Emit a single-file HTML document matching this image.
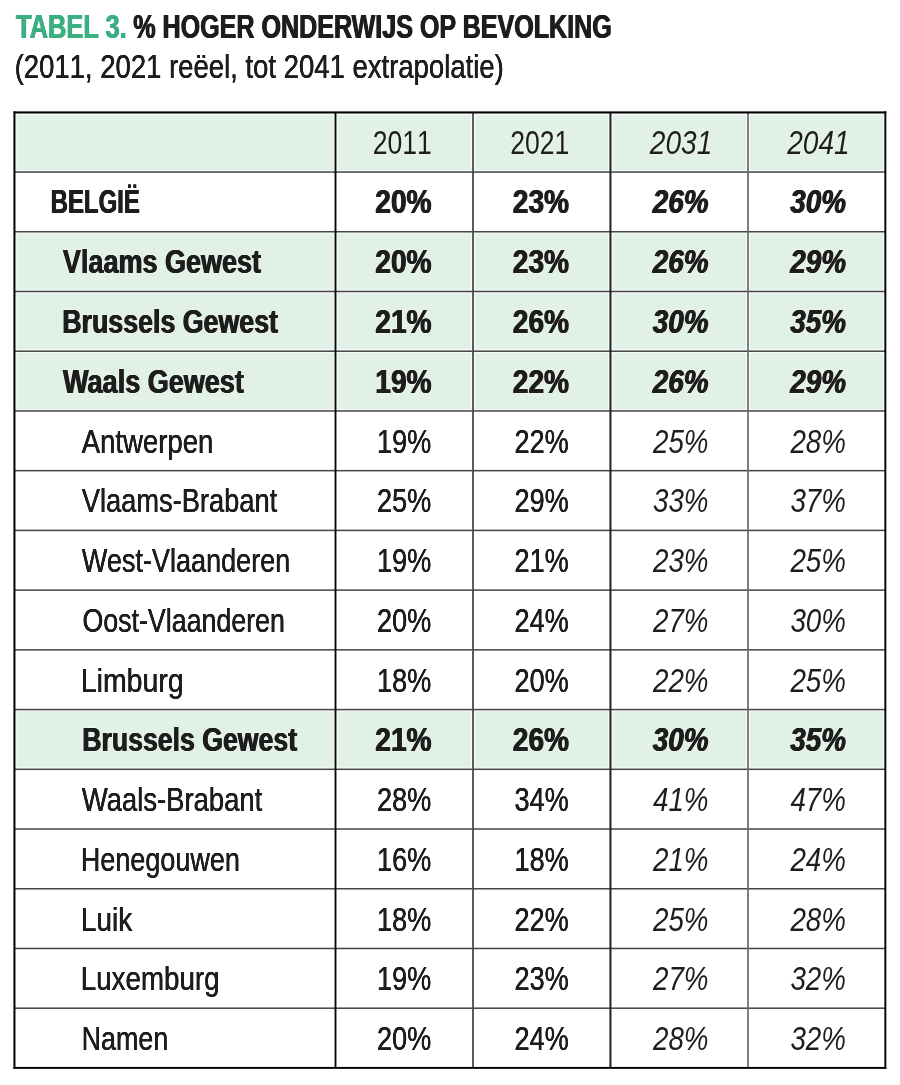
<!DOCTYPE html>
<html lang="nl">
<head>
<meta charset="utf-8">
<title>Tabel 3. % hoger onderwijs op bevolking</title>
<style>
html,body{margin:0;padding:0;background:#fff;}
body{width:900px;height:1085px;position:relative;overflow:hidden;font-family:"Liberation Sans",sans-serif;font-size:33.6px;font-weight:normal;color:#1d1d1b;}
h1,p{margin:0;font:inherit;}
svg{position:absolute;left:0;top:0;}
/* every text run is absolutely placed; Liberation Sans is squeezed horizontally to stand in for the condensed face */
.t,.c{position:absolute;left:0;white-space:nowrap;line-height:1;}
.t{transform-origin:0 0;}
.c{width:200px;text-align:center;transform-origin:50% 0;font-kerning:none;}
.k{font-kerning:none;}
.r{text-shadow:0.2px 0 0 currentColor,-0.2px 0 0 currentColor;}
.b{font-weight:bold;text-shadow:0.6px 0 0 currentColor,-0.6px 0 0 currentColor;}
.i{font-style:italic;}
.r.i{text-shadow:none;}
.s{text-shadow:0 0 1.5px rgba(255,255,255,0.9);}
.s.b{text-shadow:0.6px 0 0 currentColor,-0.6px 0 0 currentColor,0 0 2px rgba(255,255,255,0.9),0 0 2px rgba(255,255,255,0.9);}
.g{color:#3bae82;}
</style>
</head>
<body>
<svg width="900" height="1085" viewBox="0 0 900 1085" aria-hidden="true">
<g fill="#e1f1e7">
<rect x="14.4" y="112.3" width="870.95" height="59.73"/>
<rect x="14.4" y="231.75" width="870.95" height="179.18"/>
<rect x="14.4" y="709.57" width="870.95" height="59.73"/>
</g>
<defs><clipPath id="tint"><rect x="14.4" y="112.3" width="870.95" height="59.73"/><rect x="14.4" y="231.75" width="870.95" height="179.18"/><rect x="14.4" y="709.57" width="870.95" height="59.73"/></clipPath></defs>
<g fill="#ffffff" opacity="0.75" clip-path="url(#tint)">
<rect x="14.4" y="109.65" width="870.95" height="5.3"/>
<rect x="14.4" y="170.18" width="870.95" height="3.7"/>
<rect x="14.4" y="229.9" width="870.95" height="3.7"/>
<rect x="14.4" y="289.63" width="870.95" height="3.7"/>
<rect x="14.4" y="349.36" width="870.95" height="3.7"/>
<rect x="14.4" y="409.08" width="870.95" height="3.7"/>
<rect x="14.4" y="468.81" width="870.95" height="3.7"/>
<rect x="14.4" y="528.54" width="870.95" height="3.7"/>
<rect x="14.4" y="588.27" width="870.95" height="3.7"/>
<rect x="14.4" y="647.99" width="870.95" height="3.7"/>
<rect x="14.4" y="707.72" width="870.95" height="3.7"/>
<rect x="14.4" y="767.45" width="870.95" height="3.7"/>
<rect x="14.4" y="827.17" width="870.95" height="3.7"/>
<rect x="14.4" y="886.9" width="870.95" height="3.7"/>
<rect x="14.4" y="946.63" width="870.95" height="3.7"/>
<rect x="14.4" y="1006.35" width="870.95" height="3.7"/>
<rect x="14.4" y="1066.08" width="870.95" height="3.7"/>
<rect x="12.3" y="112.3" width="4.2" height="955.63"/>
<rect x="333.4" y="112.3" width="4.2" height="955.63"/>
<rect x="470.9" y="112.3" width="4.2" height="955.63"/>
<rect x="608.35" y="112.3" width="4.2" height="955.63"/>
<rect x="745.9" y="112.3" width="4.2" height="955.63"/>
<rect x="883.25" y="112.3" width="4.2" height="955.63"/>
</g>
<g fill="#444">
<rect x="14.4" y="171.28" width="870.95" height="1.5"/>
<rect x="14.4" y="231" width="870.95" height="1.5"/>
<rect x="14.4" y="290.73" width="870.95" height="1.5"/>
<rect x="14.4" y="350.46" width="870.95" height="1.5"/>
<rect x="14.4" y="410.19" width="870.95" height="1.5"/>
<rect x="14.4" y="469.91" width="870.95" height="1.5"/>
<rect x="14.4" y="529.64" width="870.95" height="1.5"/>
<rect x="14.4" y="589.37" width="870.95" height="1.5"/>
<rect x="14.4" y="649.09" width="870.95" height="1.5"/>
<rect x="14.4" y="708.82" width="870.95" height="1.5"/>
<rect x="14.4" y="768.55" width="870.95" height="1.5"/>
<rect x="14.4" y="828.27" width="870.95" height="1.5"/>
<rect x="14.4" y="888" width="870.95" height="1.5"/>
<rect x="14.4" y="947.73" width="870.95" height="1.5"/>
<rect x="14.4" y="1007.45" width="870.95" height="1.5"/>
</g>
<rect x="334.55" y="112.3" width="1.9" height="955.63" fill="#0a0a0a"/>
<rect x="472.1" y="112.3" width="1.8" height="955.63" fill="#4a4a4a"/>
<rect x="609.45" y="112.3" width="2" height="955.63" fill="#222"/>
<rect x="747.15" y="112.3" width="1.7" height="955.63" fill="#6a6a6a"/>
<g fill="#000">
<rect x="13.45" y="111.4" width="872.85" height="2.1"/>
<rect x="13.45" y="1066.95" width="872.85" height="1.9"/>
<rect x="13.45" y="111.4" width="2" height="957.45"/>
<rect x="884.4" y="111.4" width="1.9" height="957.45"/>
</g>
</svg>
<h1><span class="t b g" style="top:10px;transform:translateX(15.99px) scaleX(0.7577)">TABEL 3.</span> <span class="t b" style="top:10px;transform:translateX(133.24px) scaleX(0.747)">% HOGER ONDERWIJS OP BEVOLKING</span></h1>
<p class="t k r" style="top:50px;transform:translateX(14.63px) scaleX(0.8189)">(2011, 2021 reëel, tot 2041 extrapolatie)</p>
<div role="table" aria-label="% hoger onderwijs op bevolking">
<div role="row"><div role="columnheader"></div><div role="columnheader" class="c s" style="top:126px;transform:translateX(302.35px) scaleX(0.7916)">2011</div><div role="columnheader" class="c s" style="top:126px;transform:translateX(439.83px) scaleX(0.7916)">2021</div><div role="columnheader" class="c i s" style="top:126px;transform:translateX(581.02px) scaleX(0.8362)">2031</div><div role="columnheader" class="c i s" style="top:126px;transform:translateX(718.47px) scaleX(0.8362)">2041</div></div>
<div role="row"><div role="rowheader" class="t b" style="top:185px;transform:translateX(50.67px) scaleX(0.7131)">BELGIË</div><div role="cell" class="c b" style="top:185px;transform:translateX(303.49px) scaleX(0.8367)">20%</div><div role="cell" class="c b" style="top:185px;transform:translateX(440.97px) scaleX(0.8367)">23%</div><div role="cell" class="c b i" style="top:185px;transform:translateX(580.75px) scaleX(0.8297)">26%</div><div role="cell" class="c b i" style="top:185px;transform:translateX(718.2px) scaleX(0.8297)">30%</div></div>
<div role="row"><div role="rowheader" class="t b s" style="top:245px;transform:translateX(62.87px) scaleX(0.8044)">Vlaams Gewest</div><div role="cell" class="c b s" style="top:245px;transform:translateX(303.49px) scaleX(0.8367)">20%</div><div role="cell" class="c b s" style="top:245px;transform:translateX(440.97px) scaleX(0.8367)">23%</div><div role="cell" class="c b i s" style="top:245px;transform:translateX(580.75px) scaleX(0.8297)">26%</div><div role="cell" class="c b i s" style="top:245px;transform:translateX(718.2px) scaleX(0.8297)">29%</div></div>
<div role="row"><div role="rowheader" class="t b s" style="top:305px;transform:translateX(62.24px) scaleX(0.7971)">Brussels Gewest</div><div role="cell" class="c b s" style="top:305px;transform:translateX(303.49px) scaleX(0.8367)">21%</div><div role="cell" class="c b s" style="top:305px;transform:translateX(440.97px) scaleX(0.8367)">26%</div><div role="cell" class="c b i s" style="top:305px;transform:translateX(580.75px) scaleX(0.8297)">30%</div><div role="cell" class="c b i s" style="top:305px;transform:translateX(718.2px) scaleX(0.8297)">35%</div></div>
<div role="row"><div role="rowheader" class="t b s" style="top:365px;transform:translateX(63.05px) scaleX(0.8053)">Waals Gewest</div><div role="cell" class="c b s" style="top:365px;transform:translateX(303.49px) scaleX(0.8367)">19%</div><div role="cell" class="c b s" style="top:365px;transform:translateX(440.97px) scaleX(0.8367)">22%</div><div role="cell" class="c b i s" style="top:365px;transform:translateX(580.75px) scaleX(0.8297)">26%</div><div role="cell" class="c b i s" style="top:365px;transform:translateX(718.2px) scaleX(0.8297)">29%</div></div>
<div role="row"><div role="rowheader" class="t r" style="top:425px;transform:translateX(81.73px) scaleX(0.8198)">Antwerpen</div><div role="cell" class="c r" style="top:425px;transform:translateX(304.13px) scaleX(0.8065)">19%</div><div role="cell" class="c r" style="top:425px;transform:translateX(441.61px) scaleX(0.8065)">22%</div><div role="cell" class="c r i" style="top:425px;transform:translateX(580.74px) scaleX(0.8262)">25%</div><div role="cell" class="c r i" style="top:425px;transform:translateX(718.18px) scaleX(0.8262)">28%</div></div>
<div role="row"><div role="rowheader" class="t r" style="top:484px;transform:translateX(81.82px) scaleX(0.8116)">Vlaams-Brabant</div><div role="cell" class="c r" style="top:484px;transform:translateX(304.13px) scaleX(0.8065)">25%</div><div role="cell" class="c r" style="top:484px;transform:translateX(441.61px) scaleX(0.8065)">29%</div><div role="cell" class="c r i" style="top:484px;transform:translateX(580.74px) scaleX(0.8262)">33%</div><div role="cell" class="c r i" style="top:484px;transform:translateX(718.18px) scaleX(0.8262)">37%</div></div>
<div role="row"><div role="rowheader" class="t r" style="top:544px;transform:translateX(81.86px) scaleX(0.805)">West-Vlaanderen</div><div role="cell" class="c r" style="top:544px;transform:translateX(304.13px) scaleX(0.8065)">19%</div><div role="cell" class="c r" style="top:544px;transform:translateX(441.61px) scaleX(0.8065)">21%</div><div role="cell" class="c r i" style="top:544px;transform:translateX(580.74px) scaleX(0.8262)">23%</div><div role="cell" class="c r i" style="top:544px;transform:translateX(718.18px) scaleX(0.8262)">25%</div></div>
<div role="row"><div role="rowheader" class="t r" style="top:604px;transform:translateX(82.51px) scaleX(0.7971)">Oost-Vlaanderen</div><div role="cell" class="c r" style="top:604px;transform:translateX(304.13px) scaleX(0.8065)">20%</div><div role="cell" class="c r" style="top:604px;transform:translateX(441.61px) scaleX(0.8065)">24%</div><div role="cell" class="c r i" style="top:604px;transform:translateX(580.74px) scaleX(0.8262)">27%</div><div role="cell" class="c r i" style="top:604px;transform:translateX(718.18px) scaleX(0.8262)">30%</div></div>
<div role="row"><div role="rowheader" class="t r" style="top:664px;transform:translateX(80.88px) scaleX(0.8469)">Limburg</div><div role="cell" class="c r" style="top:664px;transform:translateX(304.13px) scaleX(0.8065)">18%</div><div role="cell" class="c r" style="top:664px;transform:translateX(441.61px) scaleX(0.8065)">20%</div><div role="cell" class="c r i" style="top:664px;transform:translateX(580.74px) scaleX(0.8262)">22%</div><div role="cell" class="c r i" style="top:664px;transform:translateX(718.18px) scaleX(0.8262)">25%</div></div>
<div role="row"><div role="rowheader" class="t b s" style="top:723px;transform:translateX(82.23px) scaleX(0.7938)">Brussels Gewest</div><div role="cell" class="c b s" style="top:723px;transform:translateX(303.49px) scaleX(0.8367)">21%</div><div role="cell" class="c b s" style="top:723px;transform:translateX(440.97px) scaleX(0.8367)">26%</div><div role="cell" class="c b i s" style="top:723px;transform:translateX(580.75px) scaleX(0.8297)">30%</div><div role="cell" class="c b i s" style="top:723px;transform:translateX(718.2px) scaleX(0.8297)">35%</div></div>
<div role="row"><div role="rowheader" class="t r" style="top:783px;transform:translateX(81.8px) scaleX(0.8173)">Waals-Brabant</div><div role="cell" class="c r" style="top:783px;transform:translateX(304.13px) scaleX(0.8065)">28%</div><div role="cell" class="c r" style="top:783px;transform:translateX(441.61px) scaleX(0.8065)">34%</div><div role="cell" class="c r i" style="top:783px;transform:translateX(580.74px) scaleX(0.8262)">41%</div><div role="cell" class="c r i" style="top:783px;transform:translateX(718.18px) scaleX(0.8262)">47%</div></div>
<div role="row"><div role="rowheader" class="t r" style="top:843px;transform:translateX(80.82px) scaleX(0.8038)">Henegouwen</div><div role="cell" class="c r" style="top:843px;transform:translateX(304.13px) scaleX(0.8065)">16%</div><div role="cell" class="c r" style="top:843px;transform:translateX(441.61px) scaleX(0.8065)">18%</div><div role="cell" class="c r i" style="top:843px;transform:translateX(580.74px) scaleX(0.8262)">21%</div><div role="cell" class="c r i" style="top:843px;transform:translateX(718.18px) scaleX(0.8262)">24%</div></div>
<div role="row"><div role="rowheader" class="t r" style="top:903px;transform:translateX(80.82px) scaleX(0.8358)">Luik</div><div role="cell" class="c r" style="top:903px;transform:translateX(304.13px) scaleX(0.8065)">18%</div><div role="cell" class="c r" style="top:903px;transform:translateX(441.61px) scaleX(0.8065)">22%</div><div role="cell" class="c r i" style="top:903px;transform:translateX(580.74px) scaleX(0.8262)">25%</div><div role="cell" class="c r i" style="top:903px;transform:translateX(718.18px) scaleX(0.8262)">28%</div></div>
<div role="row"><div role="rowheader" class="t r" style="top:962px;transform:translateX(80.71px) scaleX(0.8267)">Luxemburg</div><div role="cell" class="c r" style="top:962px;transform:translateX(304.13px) scaleX(0.8065)">19%</div><div role="cell" class="c r" style="top:962px;transform:translateX(441.61px) scaleX(0.8065)">23%</div><div role="cell" class="c r i" style="top:962px;transform:translateX(580.74px) scaleX(0.8262)">27%</div><div role="cell" class="c r i" style="top:962px;transform:translateX(718.18px) scaleX(0.8262)">32%</div></div>
<div role="row"><div role="rowheader" class="t r" style="top:1022px;transform:translateX(81.63px) scaleX(0.8)">Namen</div><div role="cell" class="c r" style="top:1022px;transform:translateX(304.13px) scaleX(0.8065)">20%</div><div role="cell" class="c r" style="top:1022px;transform:translateX(441.61px) scaleX(0.8065)">24%</div><div role="cell" class="c r i" style="top:1022px;transform:translateX(580.74px) scaleX(0.8262)">28%</div><div role="cell" class="c r i" style="top:1022px;transform:translateX(718.18px) scaleX(0.8262)">32%</div></div>
</div>
</body>
</html>
